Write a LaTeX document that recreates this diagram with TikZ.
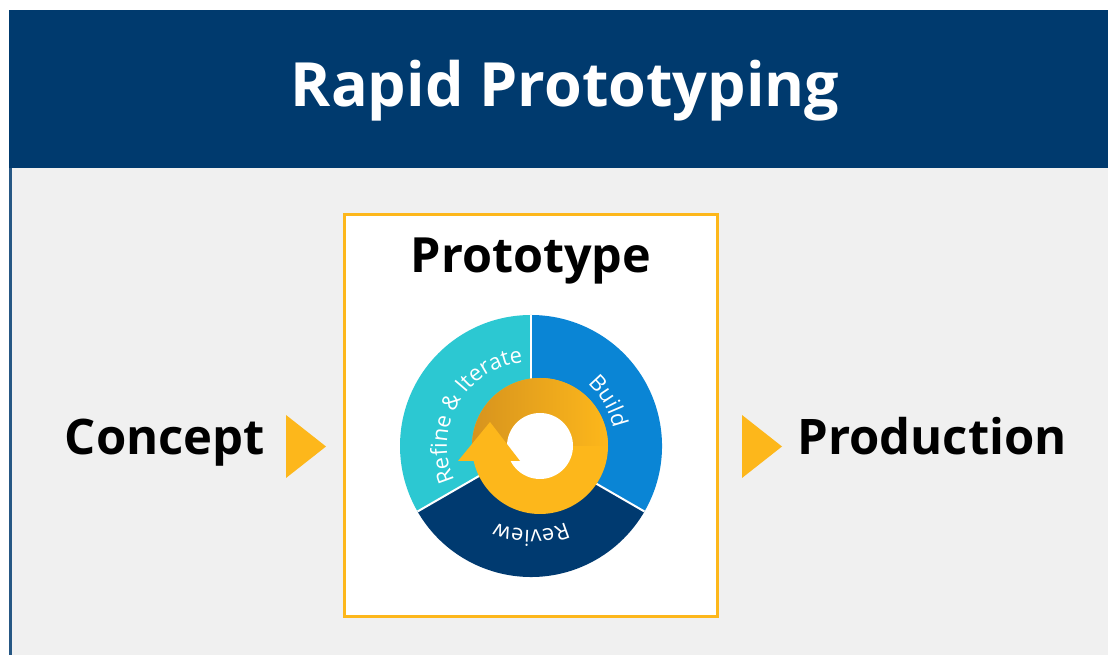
\documentclass[tikz,border=0pt]{standalone}
\usepackage{fontspec}
\setmainfont{Open Sans}
\usetikzlibrary{positioning,decorations.text}

\definecolor{navy}{HTML}{003A6E}
\definecolor{panel}{HTML}{F0F0F0}
\definecolor{gold}{HTML}{FDB71B}
\definecolor{golddark}{HTML}{D6931E}
\definecolor{cyanseg}{HTML}{2CC8D2}
\definecolor{blueseg}{HTML}{0A85D5}
\definecolor{navyseg}{HTML}{003A70}

\newcommand\wheelfont{\fontsize{22}{24}\selectfont}

\begin{document}
\begin{tikzpicture}[
    x=1pt, y=1pt,
    every node/.style={inner sep=0pt, outer sep=0pt},
    titletext/.style={text=white, font=\bfseries\fontsize{61}{70}\selectfont},
    headtext/.style={text=black, font=\bfseries\fontsize{48.5}{54}\selectfont},
    stagetext/.style={text=black, font=\bfseries\fontsize{49}{56}\selectfont},
    protobox/.style={
        draw=gold, line width=3pt, fill=white,
        minimum width=373pt, minimum height=402pt
    },
    wedge/.style={fill=gold},
    seg/.style={draw=white, line width=2pt},
    segtext/.style={
        decorate,
        decoration={text along path, text align=center, text={#1}}
    }
]

    \useasboundingbox (0,0) rectangle (1108,655);
    \fill[white] (0,0) rectangle (1108,655);

    % Banner and panel
    \fill[panel] (9,0) rectangle (1108,487);
    \draw[navy!85, line width=2.5pt] (10.5,0) -- (10.5,487);
    \draw[navy!45, line width=1pt] (9,487) -- (1108,487);
    \fill[navy] (9,487) rectangle (1108,645);
    \node[titletext, anchor=base] (title) at (565,548) {Rapid Prototyping};

    % Prototype box
    \node[protobox] (proto) at (531,239.5) {};
    \node[headtext, anchor=base] (protoname) at ([yshift=-58.5pt]proto.north) {Prototype};

    % Stages either side
    \node[stagetext, anchor=base] (concept) at (165,200) {Concept};
    \node[stagetext, anchor=base] (production) at (932,200) {Production};
    \fill[wedge] (286,240) -- (326,208.5) -- (286,177) -- cycle;
    \fill[wedge] (742,240) -- (782,208.5) -- (742,177) -- cycle;

    % Wheel
    \coordinate (wheel) at (531,209);
    \coordinate (loop) at (540,209);
    \fill[cyanseg] (wheel) -- ++(90:131) arc[start angle=90, end angle=210, radius=131] -- cycle;
    \fill[navyseg] (wheel) -- ++(210:131) arc[start angle=210, end angle=330, radius=131] -- cycle;
    \fill[blueseg] (wheel) -- ++(-30:131) arc[start angle=-30, end angle=90, radius=131] -- cycle;
    \foreach \a in {90,210,330}
        \draw[seg] (wheel) -- ++(\a:131);

    \path[segtext={|\wheelfont\color{white}|Refine {\&} Iterate}]
        ([shift={(210:84)}]wheel) arc[start angle=210, end angle=90, radius=84];
    \path[segtext={|\wheelfont\color{white}|Build}]
        ([shift={(90:84)}]wheel) arc[start angle=90, end angle=-30, radius=84];
    \path[segtext={|\wheelfont\color{white}|Review}]
        ([shift={(330:84)}]wheel) arc[start angle=330, end angle=210, radius=84];

    % Cycle arrow
    \fill[gold] (loop) circle[radius=68];
    \path[left color=golddark, right color=gold]
        ([shift={(185:68)}]loop) arc[start angle=185, end angle=0, radius=68]
        -- ([shift={(0:33)}]loop) arc[start angle=0, end angle=185, radius=33] -- cycle;
    \fill[white] (loop) circle[radius=33];
    \fill[gold] ([shift={(-82,-15)}]loop) -- ([shift={(-50,24)}]loop)
        -- ([shift={(-20,-15)}]loop) -- cycle;

\end{tikzpicture}
\end{document}
